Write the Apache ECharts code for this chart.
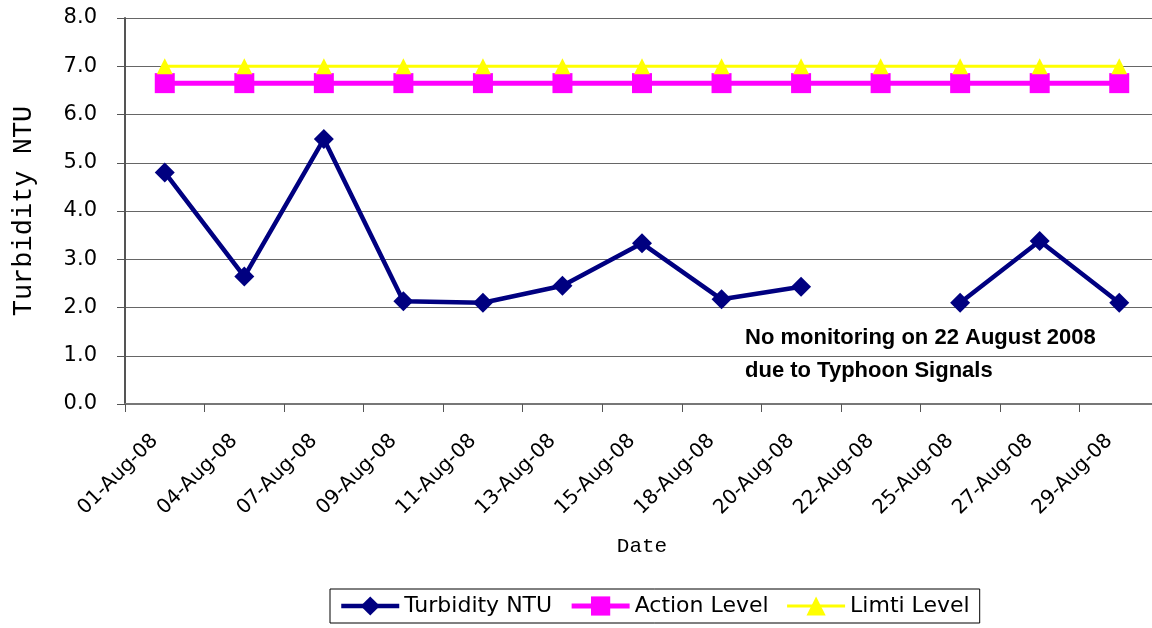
<!DOCTYPE html>
<html>
<head>
<meta charset="utf-8">
<title>Turbidity NTU</title>
<script src="https://cdn.jsdelivr.net/npm/echarts@6/dist/echarts.min.js"></script>
<style>
    html, body { margin: 0; padding: 0; background: #fff; }
    #turbidity-chart { width: 1152px; height: 628px; }
</style>
</head>
<body>
<div id="turbidity-chart"></div>
<script>
// sampling dates (category axis)
let dates = ['01-Aug-08', '04-Aug-08', '07-Aug-08', '09-Aug-08', '11-Aug-08', '13-Aug-08', '15-Aug-08',
    '18-Aug-08', '20-Aug-08', '22-Aug-08', '25-Aug-08', '27-Aug-08', '29-Aug-08']
// no monitoring on 22 Aug -> null
let turbidity = [4.8, 2.64, 5.49, 2.13, 2.1, 2.45, 3.33, 2.17, 2.43, null, 2.1, 3.38, 2.1]
let actionLevel = [6.65, 6.65, 6.65, 6.65, 6.65, 6.65, 6.65, 6.65, 6.65, 6.65, 6.65, 6.65, 6.65]
let limitLevel = [7.0, 7.0, 7.0, 7.0, 7.0, 7.0, 7.0, 7.0, 7.0, 7.0, 7.0, 7.0, 7.0]
let seriesNames = ['Turbidity NTU', 'Action Level', 'Limti Level']
let note = 'No monitoring on 22 August 2008\ndue to Typhoon Signals'

const chartDom = document.getElementById('turbidity-chart');
const turbidityChart = echarts.init(chartDom, null, { renderer: 'canvas' });

let option = {
    animation: false,
    grid: {
        left: 125,
        top: 18,
        width: 1034, // plot runs a little past the right edge, like the original
        bottom: 224,
        outerBoundsMode: 'none'
    },
    legend: {
        left: 330,
        top: 589,
        data: [
            { name: seriesNames[0], lineStyle: { width: 4.5 } },
            { name: seriesNames[1], lineStyle: { width: 5 } },
            { name: seriesNames[2], lineStyle: { width: 3 } }
        ],
        itemWidth: 58,
        itemHeight: 24,
        itemGap: 17,
        padding: [6, 10, 6, 9],
        borderColor: '#000',
        borderWidth: 1,
        textStyle: {
            fontFamily: 'DejaVu Sans',
            fontSize: 22,
            color: '#000'
        }
    },
    xAxis: {
        type: 'category',
        data: dates,
        boundaryGap: true,
        name: 'Date',
        nameLocation: 'middle',
        nameGap: 132,
        nameTextStyle: {
            fontFamily: 'Liberation Mono',
            fontSize: 21,
            color: '#000'
        },
        axisLine: { lineStyle: { color: '#777', width: 2 } },
        axisTick: { show: true, length: 8, lineStyle: { color: '#555', width: 1 } },
        axisLabel: {
            interval: 0,
            rotate: 45,
            margin: 24,
            padding: [0, 14, 0, 0],
            fontFamily: 'DejaVu Sans',
            fontSize: 20,
            color: '#000'
        },
        splitLine: { show: false }
    },
    yAxis: {
        type: 'value',
        min: 0,
        max: 8,
        interval: 1,
        name: 'Turbidity NTU',
        nameLocation: 'middle',
        nameRotate: 90,
        nameGap: 88,
        nameTextStyle: {
            fontFamily: 'Liberation Mono',
            fontSize: 27,
            color: '#000'
        },
        axisLine: { show: true, lineStyle: { color: '#555', width: 2 } },
        axisTick: { show: true, length: 8, lineStyle: { color: '#555', width: 1 } },
        axisLabel: {
            margin: 28,
            formatter: v => v.toFixed(1),
            fontFamily: 'DejaVu Sans',
            fontSize: 21,
            color: '#000'
        },
        splitLine: { show: true, lineStyle: { color: '#666', width: 1 } }
    },
    graphic: [
        {
            type: 'text',
            left: 745,
            top: 321,
            style: {
                text: note,
                font: 'bold 22px "Liberation Sans", Arial, sans-serif',
                lineHeight: 33,
                fill: '#000'
            }
        }
    ],
    series: [
        {
            name: seriesNames[0],
            type: 'line',
            data: turbidity,
            connectNulls: false,
            symbol: 'diamond',
            symbolSize: 20,
            z: 4,
            lineStyle: { color: '#000080', width: 4.5 },
            itemStyle: { color: '#000080' }
        },
        {
            name: seriesNames[1],
            type: 'line',
            data: actionLevel,
            symbol: 'rect',
            symbolSize: 20,
            z: 2,
            lineStyle: { color: '#ff00ff', width: 5 },
            itemStyle: { color: '#ff00ff' }
        },
        {
            name: seriesNames[2],
            type: 'line',
            data: limitLevel,
            symbol: 'triangle',
            symbolSize: [16, 16],
            z: 3,
            lineStyle: { color: '#ffff00', width: 3 },
            itemStyle: { color: '#ffff00' }
        }
    ]
};

turbidityChart.setOption(option);
</script>
</body>
</html>
